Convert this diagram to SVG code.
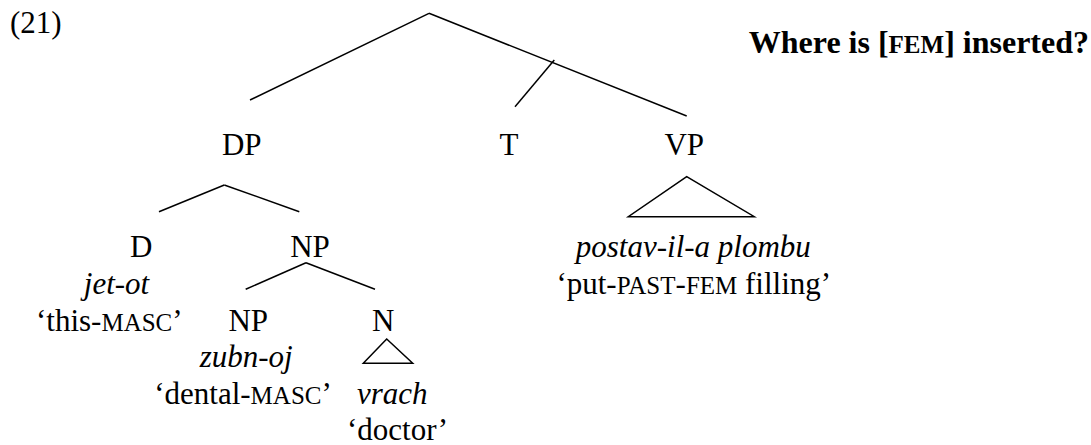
<svg xmlns="http://www.w3.org/2000/svg" width="1091" height="445" viewBox="0 0 1091 445">
<style>
text{font-family:"Liberation Serif","Times New Roman",serif;font-size:31px;fill:#000}
.c{text-anchor:middle}
.i{font-style:italic}
.sc{font-size:25px}
.t{font-weight:bold;font-size:32px;text-anchor:end}
.t .sc{font-size:25px}
line,polygon{stroke:#000;stroke-width:1.5;fill:none;stroke-linecap:butt}
</style>
<rect width="1091" height="445" fill="#fff"/>
<text id="label-num" x="10" y="33">(21)</text>
<text id="title" class="t" x="1089" y="53.3">Where is [<tspan class="sc">FEM</tspan>] inserted?</text>
<g id="connectors">
<line x1="429" y1="13.3" x2="250" y2="100"/>
<line x1="429" y1="13.3" x2="686.7" y2="116"/>
<line x1="554.3" y1="60" x2="515" y2="106.7"/>
<line x1="224.3" y1="185" x2="159" y2="211.7"/>
<line x1="224.3" y1="185" x2="299.3" y2="211.7"/>
<line x1="306" y1="262.7" x2="245.7" y2="289.3"/>
<line x1="306" y1="262.7" x2="375" y2="289.3"/>
<polygon points="686.7,176.7 628.3,216.7 754.3,216.7"/>
<polygon points="386.7,339 363.3,363.3 412.7,363.3"/>
</g>
<g id="node-DP"><text class="c" x="241.7" y="155">DP</text></g>
<g id="node-T"><text class="c" x="509" y="155">T</text></g>
<g id="node-VP">
<text class="c" x="684.2" y="155">VP</text>
<text class="c i" x="693.3" y="256.7">postav-il-a plombu</text>
<text class="c" x="693.8" y="293.7">‘put-<tspan class="sc">PAST</tspan>-<tspan class="sc">FEM</tspan> filling’</text>
</g>
<g id="node-D">
<text class="c" x="141.2" y="256.7">D</text>
<text class="c i" x="116.5" y="293.7">jet-ot</text>
<text class="c" x="109.3" y="330.7">‘this-<tspan class="sc">MASC</tspan>’</text>
</g>
<g id="node-NP"><text class="c" x="310" y="256.7">NP</text></g>
<g id="node-NP2">
<text class="c" x="248.3" y="330.7">NP</text>
<text class="c i" x="246.2" y="367">zubn-oj</text>
<text class="c" x="243" y="403.5">‘dental-<tspan class="sc">MASC</tspan>’</text>
</g>
<g id="node-N">
<text class="c" x="383.3" y="330.7">N</text>
<text class="c i" x="392.2" y="403.5">vrach</text>
<text class="c" x="397.5" y="440">‘doctor’</text>
</g>
</svg>
